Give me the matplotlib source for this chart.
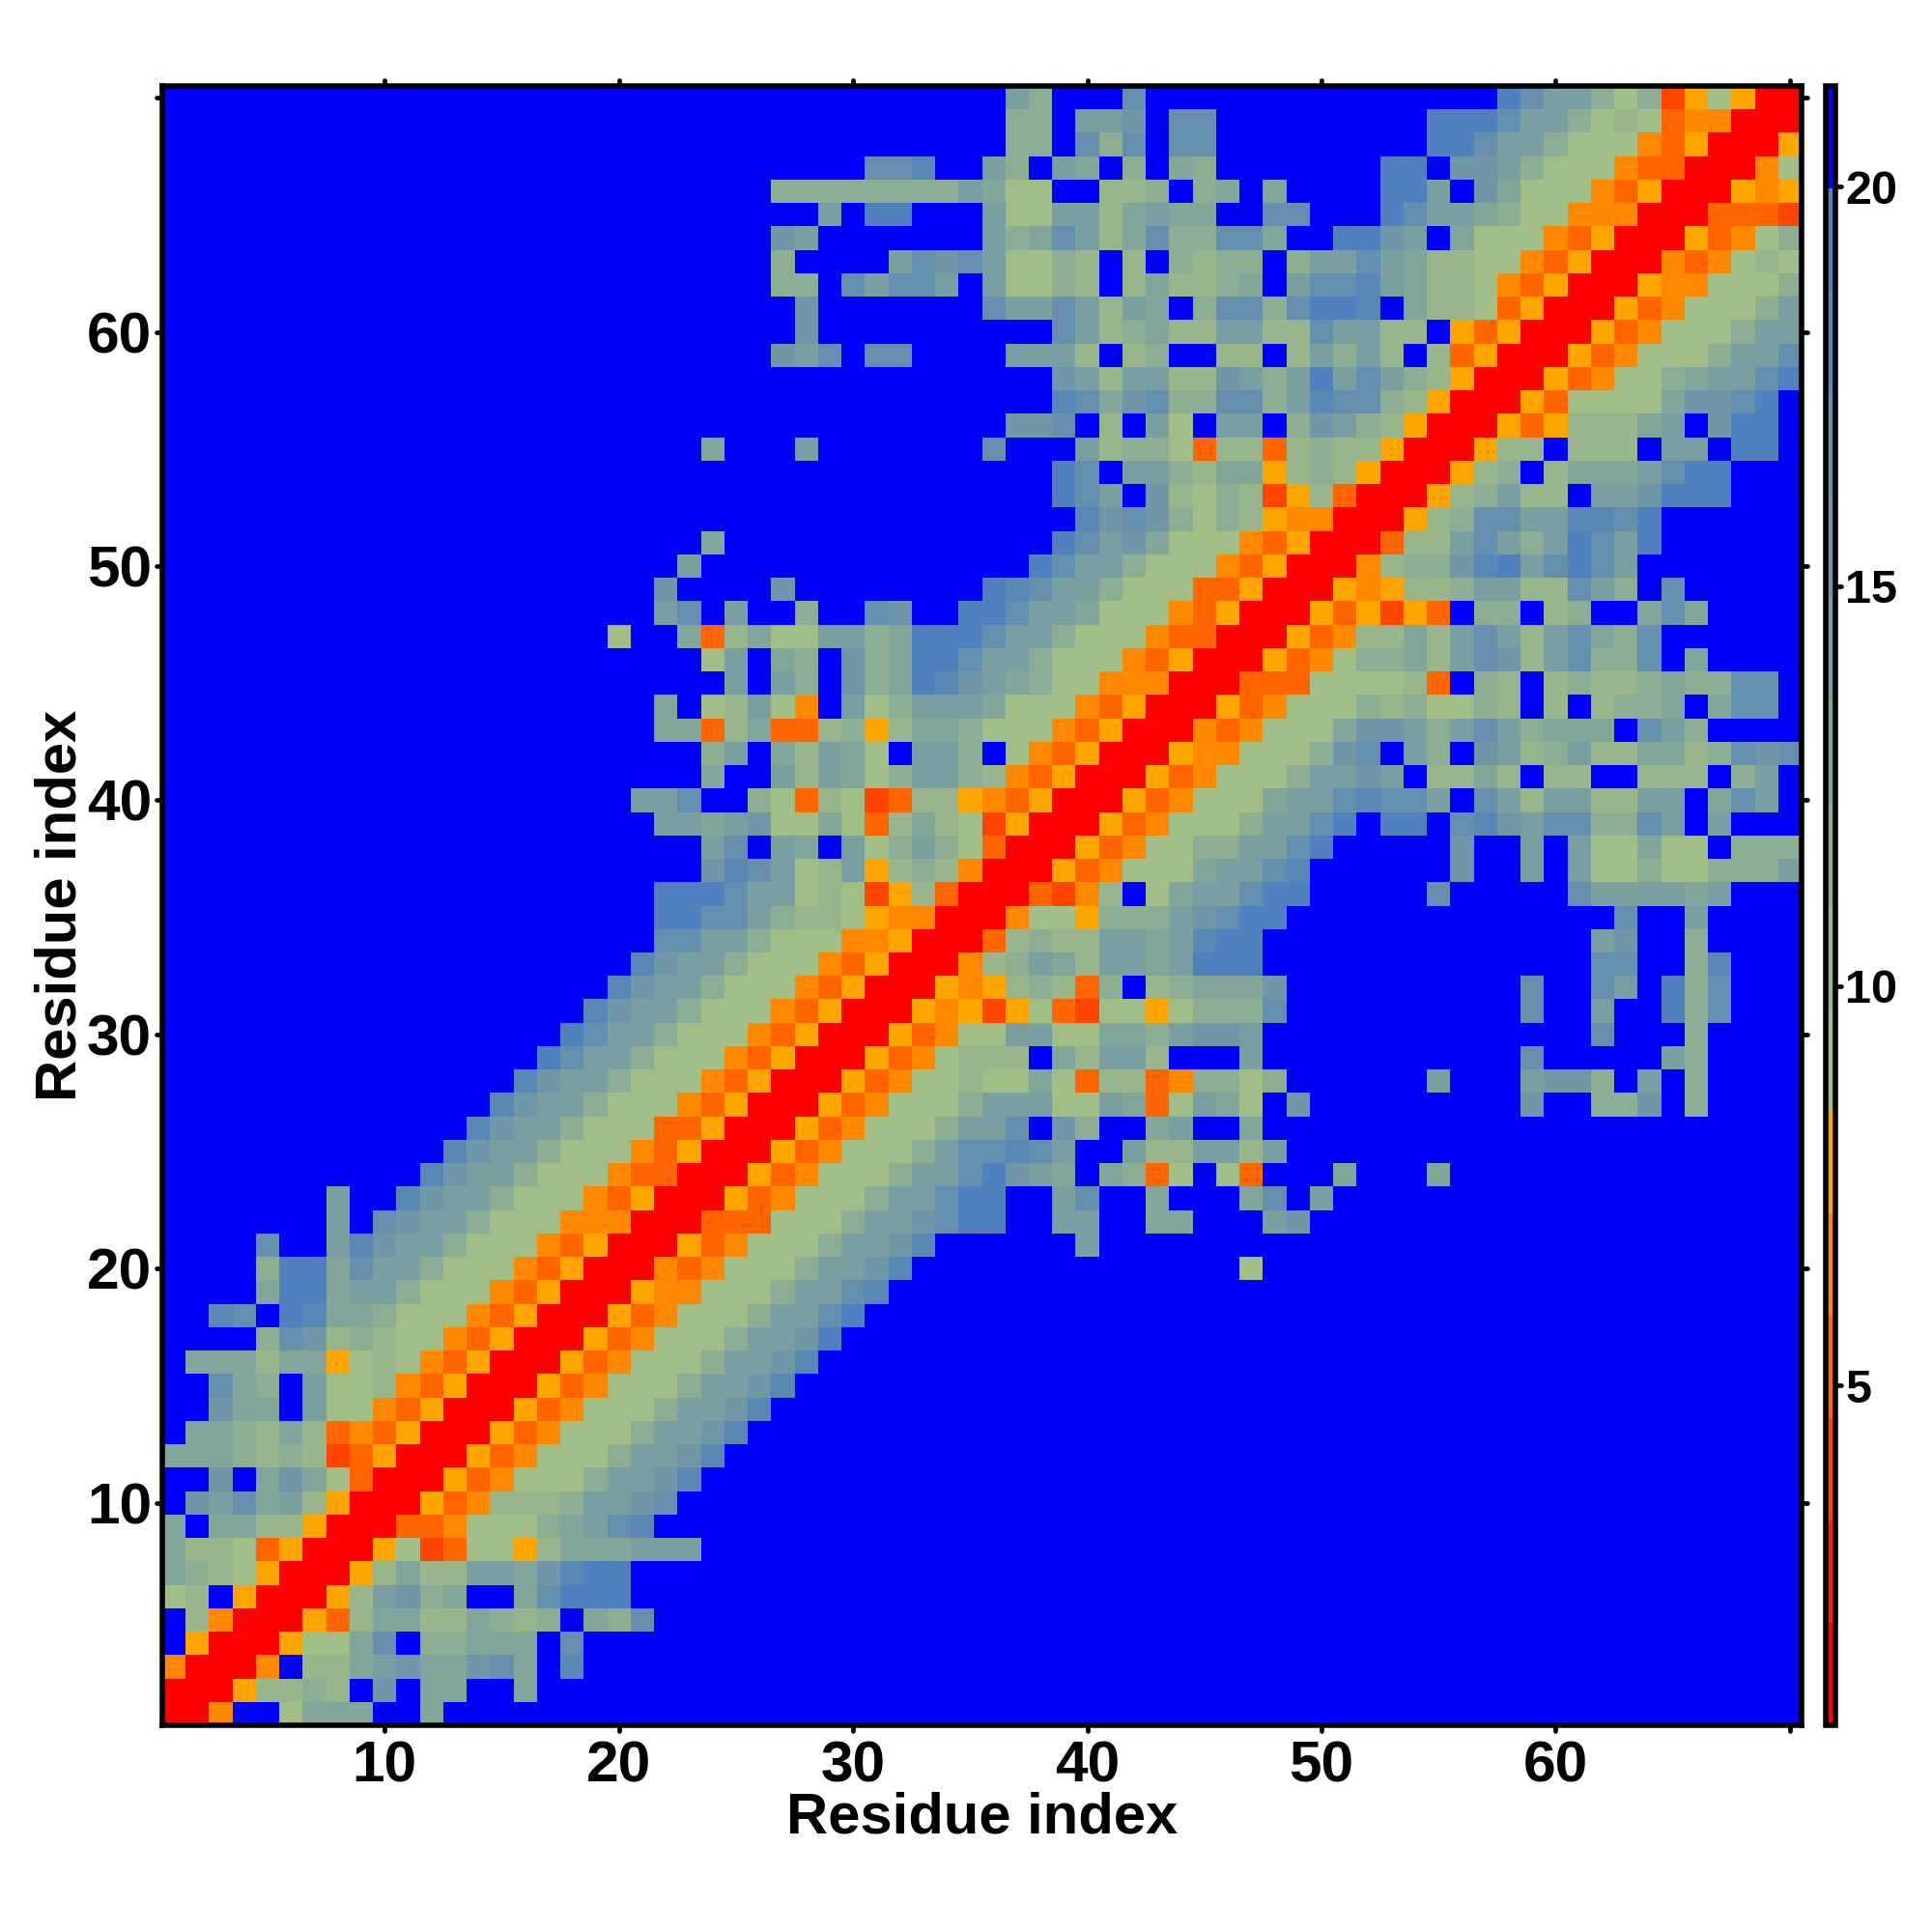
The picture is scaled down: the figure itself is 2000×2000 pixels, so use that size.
import numpy as np
import matplotlib
matplotlib.use("Agg")
import matplotlib.pyplot as plt
from matplotlib.colors import ListedColormap, Normalize
from matplotlib.markers import MarkerStyle

N_RESIDUES = 70
V_MIN = 0.75
V_MAX = 21.26

# palette of the 16 colour levels, low to high
LEVEL_COLORS = ["#FF0000", "#FF2200", "#FF4500", "#FF6600", "#FF8800", "#FFA500",
                "#A2BD85", "#98B58C", "#8EAE93", "#83A69A", "#799FA1", "#6F97A8",
                "#658FAF", "#5A88B6", "#5080BD", "#0000FF"]

TICK_VALUES = [10, 20, 30, 40, 50, 60, 70]
TICK_LABELS = ["10", "20", "30", "40", "50", "60", ""]
CBAR_TICKS = [5, 10, 15, 20]

# Matrix is symmetric. One string per residue, starting on the diagonal,
# each hex digit is a colour level, cells after the end of a string are F.
# Spaces are only there to keep the columns countable.
ROWS = [
    "004FF6999FF9",
    "0057787FBF99FF9",
    "004F779AB99BC9FD",
    "005669CF88999FC",
    "00537997798 78F98C",
    "0057AB89FF9CEEE",
    "0057977AA9BDEE",
    "0056236657999AAA",
    "0033466689ACD",
    "005347778AABC",
    "005346668AABD",
    "005346668AABD",
    "005346668AABD",
    "005346668AABD",
    "005346668AABD",
    "005346668AABD",
    "005346668AABE",
    "005346668AACE",
    "005446668AACD",
    "004346668AABD FFFFFFFFFFFFFF 6",
    "005346668AABD FFFFFF A",
    "003336668AABCEEFFAAFF99FFFAB",
    "005346668AACEEFFACFF9FFF9CFA",
    "005346668AACEBA9F9836F63FFF9FFF9",
    "005346668ACCDCAFFA77AA7A",
    "005346668AACFB8FF9AFF9",
    "005346668AAA66A936A96FB FFFFFFFFF B FF 88 B F 8",
    "005346676696377348868 FFFFFF A FFF A B B 8 F A F 8",
    "005346777F97AA7 FFF A FFFFFFFFFFF C FFFFF A 8",
    "0053466AA66998ABBA FFFFFFFFFFFFFF C FFF 8",
    "00545256326656888C FFFFFFFFFF C FF A FF E 8 C",
    "0054578738F78999B FFFFFFFFFF C FF C A F E 8 C",
    "00478A97AA9AEEE FFFFFFFFFFFFFF C C FF 8 D",
    "0037877AA9ADEE FFFFFFFFFFFFFF A B FF 8",
    "004665888ABCEE FFFFFFFFFFFFFF C FF A",
    "003247F69AACEE FFFFF C FFFFF C AAAA 9 A",
    "005346669AACD FFFFFF B FF A F A 66 8 66 888 A",
    "005346688AACE FFFFF B FF A F A 66 9 66 F 888",
    "005346668AACE F EE F CDBACC88CAFA",
    "005346669AACDCCA FCA7AA77AAF9CA",
    "005346668AABAF7 797F77FF777F8A",
    "005446668BCFA8 FBA78A779978CBC",
    "004346669BBA8 ACA8999FCA8",
    "005346668786 687F7F7889F9CC",
    "00333666673 F87F78778988CC",
    "0053468897 ACB7AC88CF9",
    "005347797 ACA7AC98C",
    "00535253 F88F78FF9C9",
    "0054577 8AA77CA8FC",
    "004788 BDEACECA",
    "00377 ACA8AECAE",
    "0057 8CCAADDCE",
    "005 78A77FAABEEE",
    "00 578F7999ACEE",
    "00577F777FAAFEE",
    "005357779AFBEE",
    "005366669BBCE",
    "005346689AACE",
    "005346668AAC",
    "005346668AA",
    "005346668A",
    "005446668",
    "00434676",
    "0053468",
    "003332",
    "00545",
    "0046",
    "005",
    "00",
    "0",
]

plt.rcParams["font.family"] = ["Liberation Sans", "DejaVu Sans"]
plt.rcParams["font.weight"] = "bold"

# Fill the matrix from the strings
step = (V_MAX - V_MIN) / len(LEVEL_COLORS)
levels = np.full((N_RESIDUES, N_RESIDUES), 15)
for i, row in enumerate(ROWS):
    digits = row.replace(" ", "")
    if len(digits) > N_RESIDUES - i:
        raise ValueError("row %d too long: %d" % (i + 1, len(digits)))
    for k, ch in enumerate(digits):
        levels[i, i + k] = int(ch, 16)
        levels[i + k, i] = int(ch, 16)
values = V_MIN + (levels + 0.5) * step

cmap = ListedColormap(LEVEL_COLORS)
norm = Normalize(V_MIN, V_MAX)

fig = plt.figure(figsize=(20, 20), dpi=100)
ax = fig.add_axes([168 / 2000, 1 - 1786 / 2000, 1697 / 2000, 1697 / 2000])
residues = np.arange(1, N_RESIDUES + 1)
mesh = ax.pcolormesh(residues, residues, values, cmap=cmap, norm=norm, shading="nearest")
ax.set_xlim(0.5, 70.5)
ax.set_ylim(0.5, 70.5)

ax.set_xticks(TICK_VALUES, TICK_LABELS)
ax.set_yticks(TICK_VALUES, TICK_LABELS)
ax.tick_params(axis="both", direction="out", top=True, right=True, length=4.5, width=3.4,
               labelsize=43.5)
ax.tick_params(axis="x", pad=7)
ax.tick_params(axis="y", pad=3.5)
for label in ax.get_xticklabels() + ax.get_yticklabels():
    label.set_fontweight("bold")

ax.set_xlabel("Residue index", fontsize=43, fontweight="bold", labelpad=-2)
ax.set_ylabel("Residue index", fontsize=43, fontweight="bold", labelpad=-0.5)

for spine in ax.spines.values():
    spine.set_linewidth(4.0)

# Colorbar on the right
cax = fig.add_axes([1890 / 2000, 1 - 1786 / 2000, 10 / 2000, 1697 / 2000])
cbar = fig.colorbar(mesh, cax=cax, ticks=CBAR_TICKS)
cbar.outline.set_linewidth(4.0)
cbar.ax.tick_params(direction="out", length=4.5, width=3.4, labelsize=35, pad=3)
for label in cbar.ax.get_yticklabels():
    label.set_fontweight("bold")

# round the tick ends
for axis in [ax.xaxis, ax.yaxis, cbar.ax.yaxis]:
    for tick in axis.get_major_ticks():
        for line in [tick.tick1line, tick.tick2line]:
            line.set_marker(MarkerStyle(line.get_marker(), capstyle="round"))

fig.savefig("out.png", dpi=100)
